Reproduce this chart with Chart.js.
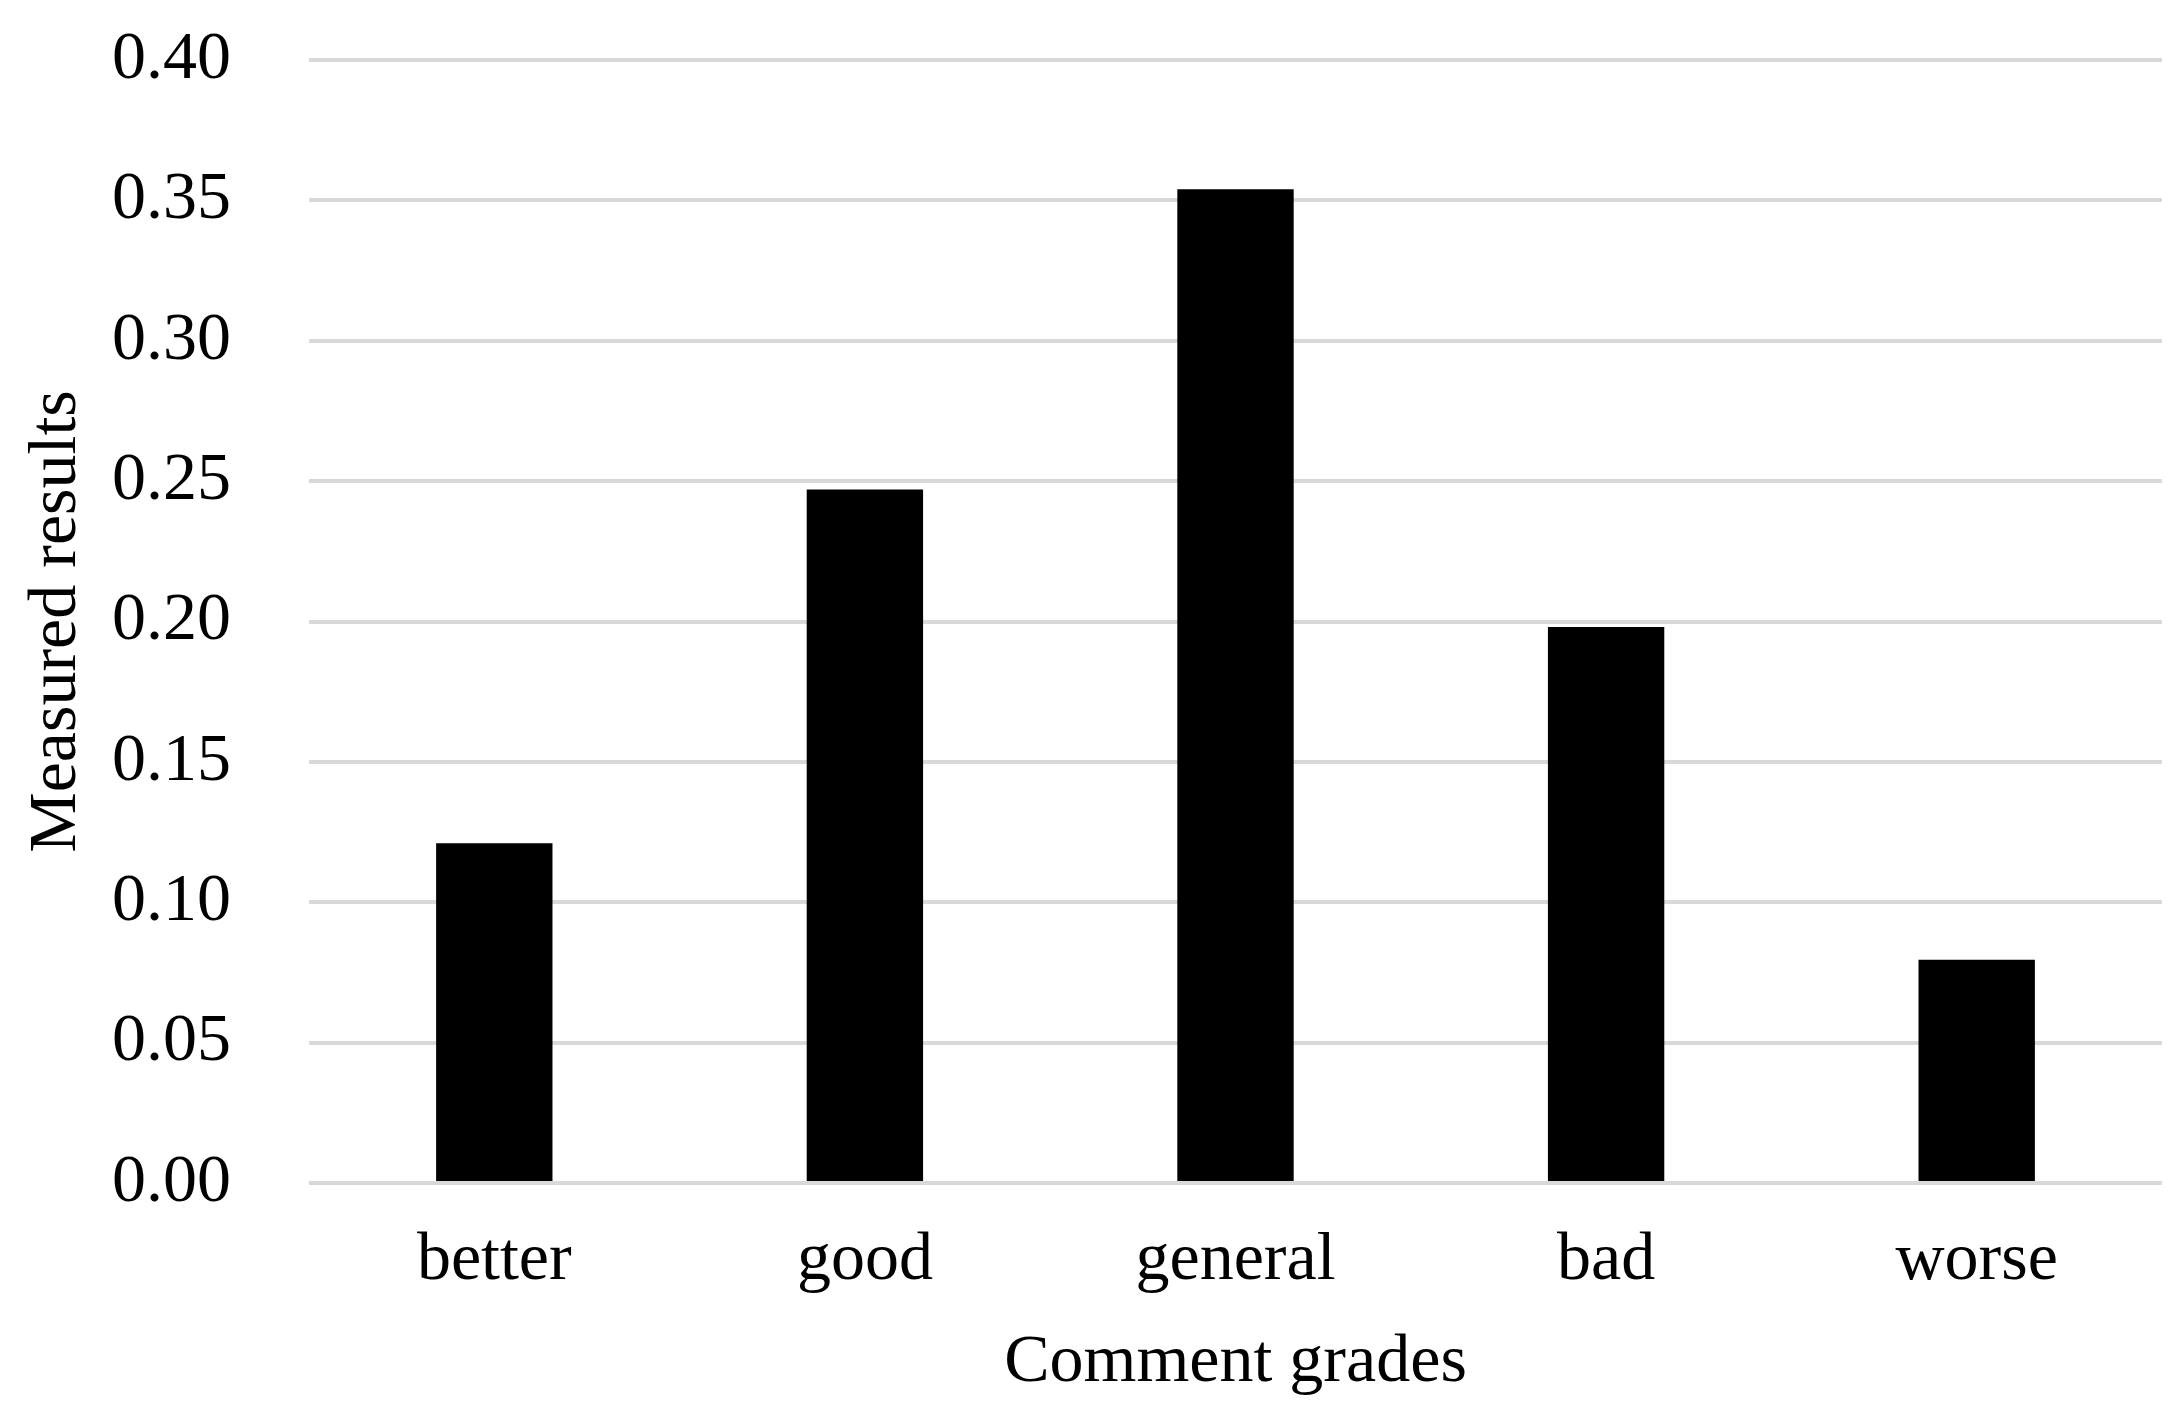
<!DOCTYPE html>
<html>
<head>
<meta charset="utf-8">
<script src="https://cdn.jsdelivr.net/npm/chart.js@4/dist/chart.umd.min.js"></script>
<style>
  html, body { margin: 0; padding: 0; background: #fff; }
  #wrap { width: 2183px; height: 1416px; position: relative; }
</style>
</head>
<body>
<div id="wrap"><canvas id="gradesChart"></canvas></div>
<script>
// Data
const grades = ['better', 'good', 'general', 'bad', 'worse'];
const measured = [0.121, 0.247, 0.354, 0.198, 0.0795];
const yTicks = [0, 0.05, 0.10, 0.15, 0.20, 0.25, 0.30, 0.35, 0.40];

const serif = 'Liberation Serif, Times New Roman, serif';

const ctx = document.getElementById('gradesChart');
new Chart(ctx, {
    type: 'bar',
    data: {
        labels: grades,
        datasets: [{
            label: 'Measured results',
            data: measured,
            backgroundColor: '#000000',
            borderWidth: 0,
            categoryPercentage: 1.0,
            barPercentage: 0.314
        }]
    },
    options: {
        responsive: true,
        maintainAspectRatio: false,
        animation: false,
        devicePixelRatio: 1,
        layout: {
            padding: { top: 60, right: 21, bottom: 0, left: 0 }
        },
        plugins: {
            legend: { display: false },
            tooltip: { enabled: false }
        },
        scales: {
            x: {
                grid: { display: false, drawTicks: false },
                border: { display: false },
                ticks: {
                    color: '#000',
                    padding: 37,
                    font: { family: serif, size: 68 }
                },
                title: {
                    display: true,
                    text: 'Comment grades',
                    color: '#000',
                    padding: { top: 0, bottom: 12 },
                    font: { family: serif, size: 68 }
                },
                afterFit: (scale) => { scale.height = 233; }
            },
            y: {
                min: 0,
                max: 0.40,
                afterBuildTicks: (scale) => {
                    scale.ticks = yTicks.map(v => ({ value: v }));
                },
                grid: {
                    color: '#d9d9d9',
                    lineWidth: 4,
                    drawTicks: false
                },
                border: { display: false },
                ticks: {
                    color: '#000',
                    padding: 78,
                    font: { family: serif, size: 68 },
                    callback: (v) => Number(v).toFixed(2)
                },
                title: {
                    display: true,
                    text: 'Measured results',
                    color: '#000',
                    padding: { top: 16, bottom: 0 },
                    font: { family: serif, size: 68 }
                },
                afterFit: (scale) => {
                    scale.width = 309;
                    // tick padding is otherwise added above the plot area too
                    scale.paddingTop = 0;
                    scale.paddingBottom = 0;
                }
            }
        }
    }
});
</script>
</body>
</html>
